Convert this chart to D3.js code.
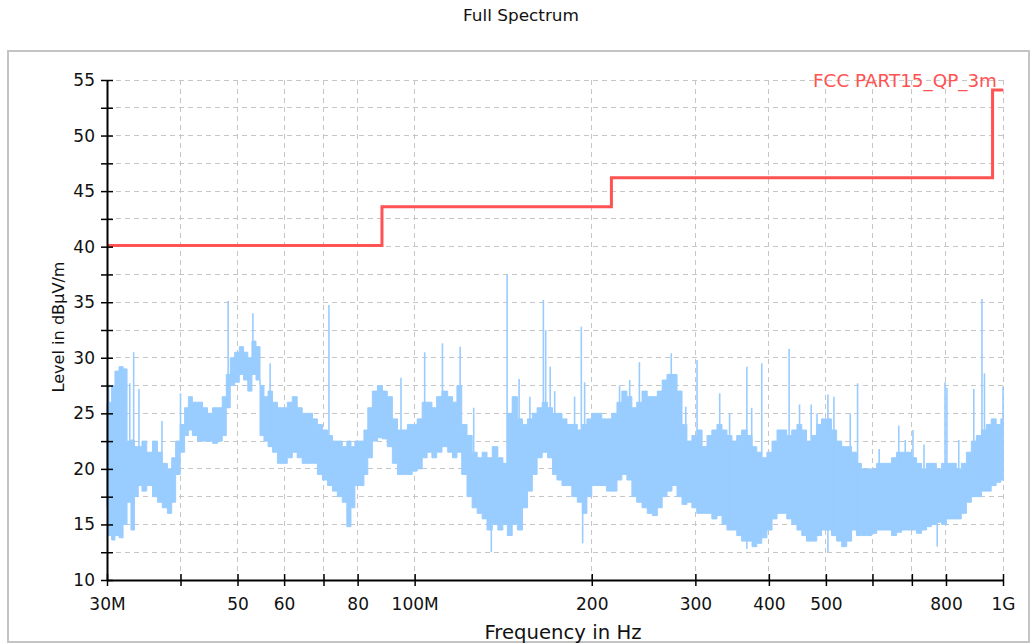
<!DOCTYPE html>
<html>
<head>
<meta charset="utf-8">
<script src="https://cdn.jsdelivr.net/npm/d3@7"></script>
<style>
  body { margin: 0; background: #fff; }
  text { font-family: "DejaVu Sans", sans-serif; }
</style>
</head>
<body>
<div id="chart"></div>
<script>
// spectrum envelope (MHz, dBuV/m)
const freqs = [
  30, 30.4, 30.7, 31.2, 31.7, 32.2, 32.7, 33.2, 33.6, 34.2,
  34.6, 35.5, 36.2, 36.9, 37.6, 38.4, 38.9, 39.6, 40.3, 41.0,
  41.5, 42.3, 43.2, 44.0, 44.9, 45.8, 46.7, 47.5, 48.2, 49.0,
  49.9, 50.8, 51.6, 52.5, 53.3, 54.2, 55.0, 55.9, 56.8, 57.9,
  59.0, 60.1, 61.4, 62.5, 63.8, 65.0, 66.4, 67.7, 69.0, 70.4,
  71.8, 73.2, 74.6, 76.1, 77.3, 78.6, 79.7, 81.4, 82.6, 83.9,
  85.6, 87.3, 89.0, 90.7, 92.6, 94.4, 96.3, 98.1, 100, 102,
  104, 106, 108, 110, 112.6, 115, 117, 119, 121.5, 124,
  126.5, 129, 131.5, 134, 137, 140, 142.5, 145, 148, 151,
  154, 157, 160, 163, 166.5, 170, 173, 176, 180, 183,
  187, 191, 194.5, 198, 202, 206, 210, 214, 218.5, 223,
  227, 232, 236, 241, 246, 251, 256, 261, 266, 271,
  276.5, 282, 287.5, 293, 299, 305, 311, 317, 323, 330,
  336, 343, 349.5, 356, 363, 371, 378, 385, 393, 401,
  409, 417, 425, 433, 442, 451, 459, 468, 478, 487,
  496, 506, 516, 527, 537, 548, 558, 569, 580, 592,
  604, 616, 628, 640, 653, 666, 679, 692, 706, 720,
  734, 748, 763, 778, 794, 809, 825, 841, 858, 875,
  892, 910, 928, 946, 964, 983, 1000
];
const lows = [
  16.5, 14.0, 13.6, 14.0, 13.8, 15.0, 17.0, 14.5, 17.5, 18.5,
  18.0, 18.5, 17.5, 17.0, 16.5, 16.0, 17.0, 19.5, 21.5, 23.0,
  23.5, 23.0, 22.5, 22.5, 22.5, 22.3, 22.5, 23.0, 25.5, 27.5,
  27.8, 28.5, 28.0, 27.0, 28.5, 28.0, 23.0, 22.5, 22.0, 21.5,
  20.5, 20.5, 21.0, 21.5, 21.0, 20.5, 20.5, 20.5, 19.5, 19.0,
  18.5, 18.0, 17.5, 17.0, 14.8, 16.5, 18.5, 18.5, 19.5, 21.0,
  22.5, 22.8, 22.7, 22.0, 20.5, 19.5, 19.5, 19.5, 19.8, 20.0,
  21.0, 21.5, 21.0, 21.5, 22.0, 21.5, 21.0, 21.5, 19.5, 17.5,
  16.5, 16.0, 15.5, 14.5, 15.0, 14.5, 15.0, 14.0, 15.0, 14.5,
  16.5, 18.0, 19.5, 21.0, 21.5, 21.0, 19.5, 19.0, 18.5, 18.5,
  17.5, 17.0, 16.0, 17.5, 18.5, 18.5, 18.5, 18.0, 18.0, 19.0,
  19.5, 19.0, 17.5, 17.0, 16.5, 16.0, 15.8, 16.5, 17.5, 18.0,
  18.5, 17.5, 16.8, 17.0, 16.5, 16.0, 16.0, 16.0, 15.5, 15.8,
  15.0, 14.5, 14.5, 14.0, 13.5, 13.5, 13.0, 13.3, 13.8, 14.5,
  15.5, 16.0, 16.0, 15.5, 15.0, 14.5, 14.0, 13.5, 13.5, 14.0,
  14.5, 14.5, 14.0, 13.5, 13.0, 13.5, 14.5, 14.0, 14.0, 14.0,
  14.2, 14.5, 14.5, 14.5, 14.0, 14.3, 14.5, 14.5, 14.5, 14.2,
  14.5, 14.8, 15.0, 15.2, 15.0, 15.5, 15.5, 15.5, 16.0, 17.0,
  17.5, 17.5, 18.0, 18.0, 18.5, 18.8, 19.0
];
const highs = [
  25.8, 26.0, 27.5, 28.8, 29.2, 29.0, 22.5, 22.6, 22.0, 22.0,
  22.5, 21.5, 22.5, 21.5, 20.5, 20.0, 21.0, 22.5, 24.0, 25.5,
  26.5, 26.0, 26.0, 25.5, 25.0, 25.5, 25.5, 26.5, 28.5, 30.0,
  30.5, 31.0, 30.5, 30.0, 31.5, 31.0, 27.5, 26.5, 27.0, 26.0,
  25.5, 25.5, 26.0, 26.5, 25.5, 25.0, 25.0, 24.5, 24.0, 23.5,
  23.0, 22.5, 22.5, 22.0, 22.5, 22.0, 22.5, 22.5, 23.5, 25.5,
  27.0, 27.5, 27.0, 26.5, 24.5, 23.5, 23.5, 24.0, 24.0, 24.5,
  26.0, 26.0, 25.5, 26.5, 27.0, 26.5, 26.0, 27.5, 24.0, 23.0,
  21.5, 21.0, 21.5, 21.0, 22.0, 21.0, 20.5, 25.0, 26.5, 24.5,
  24.0, 24.5, 25.0, 25.5, 26.0, 25.5, 25.0, 25.0, 24.5, 24.0,
  24.0, 23.5, 24.0, 24.5, 25.0, 25.0, 24.5, 24.5, 25.0, 26.0,
  27.0, 26.5, 25.5, 26.0, 27.0, 26.5, 26.5, 27.0, 28.0, 28.5,
  28.5, 27.0, 24.0, 22.5, 23.0, 23.5, 22.0, 23.0, 23.5, 24.0,
  23.5, 23.0, 22.5, 23.0, 23.5, 23.0, 22.0, 21.5, 21.0, 21.5,
  22.5, 23.5, 23.5, 23.0, 23.5, 24.0, 23.5, 22.5, 23.0, 24.0,
  24.5, 24.5, 23.5, 22.5, 22.0, 22.0, 21.5, 20.5, 20.0, 20.0,
  20.0, 20.5, 20.5, 20.5, 21.0, 21.5, 21.5, 21.5, 21.0, 20.5,
  20.0, 20.5, 20.5, 20.0, 20.5, 20.5, 20.5, 20.0, 20.5, 21.5,
  22.5, 23.0, 23.5, 24.0, 24.5, 24.0, 24.5
];

// narrow peaks and dips standing out of the envelope
const peakFreqs = [30.2, 32.8, 33.3, 34.0, 37.2, 40.0, 48.2, 53.1, 56.8, 71.5,
  94.8, 104, 111.5, 119.5, 126, 143.6, 150.5, 157, 165.5, 167,
  170, 173, 187, 192, 194.5, 223, 232, 241, 273, 289,
  302, 330, 343, 367, 374, 389, 433, 451, 472, 483,
  504, 516, 550, 566, 616, 665, 682, 703, 734, 797,
  803, 841, 892, 921, 930, 1000];
const peakLevels = [27.6, 27.7, 30.5, 27.2, 24.3, 26.8, 35.1, 34.0, 29.5, 34.75,
  28.2, 30.5, 31.3, 31.0, 25.5, 37.5, 28.1, 26.5, 35.2, 32.5,
  29.2, 27.0, 26.5, 32.8, 27.8, 27.5, 28.0, 29.6, 30.4, 25.6,
  29.8, 26.8, 25.0, 29.2, 25.5, 29.5, 30.8, 25.8, 25.8, 25.0,
  26.7, 26.5, 25.0, 27.7, 21.8, 23.9, 22.6, 23.5, 22.2, 27.8,
  27.3, 22.6, 27.2, 35.3, 28.6, 27.4];
const dipFreqs = [135, 193, 367, 504, 773];
const dipLevels = [12.5, 13.3, 12.8, 12.5, 13.0];

// FCC Part 15 QP 3 m limit
const limitFreqs = [30, 88, 88, 216, 216, 960, 960, 1000];
const limitLevels = [40.1, 40.1, 43.6, 43.6, 46.2, 46.2, 54.1, 54.1];

const xTicks = [30, 40, 50, 60, 70, 80, 100, 200, 300, 400, 500, 600, 700, 800, 1000];
const xTickLabels = ["30M", "", "50", "60", "", "80", "100M", "200", "300", "400", "500", "", "", "800", "1G"];
const yTicks = [10, 12.5, 15, 17.5, 20, 22.5, 25, 27.5, 30, 32.5, 35, 37.5, 40, 42.5, 45, 47.5, 50, 52.5, 55];

const width = 1033;
const height = 644;

const svg = d3.select("#chart")
  .append("svg")
  .attr("width", width)
  .attr("height", height);

const x = d3.scaleLog().domain([30, 1000]).range([107, 1003]);
const y = d3.scaleLinear().domain([10, 55]).range([580, 80]);

// outer frame
svg.append("rect")
  .attr("x", 8).attr("y", 51)
  .attr("width", 1021).attr("height", 591)
  .attr("fill", "none")
  .attr("stroke", "#c4c4c4")
  .attr("stroke-width", 2);

// grid
const grid = svg.append("g")
  .attr("stroke", "#c6c6c6")
  .attr("stroke-dasharray", "5,4")
  .attr("shape-rendering", "crispEdges");

grid.selectAll(".h")
  .data(yTicks.filter(d => d > 10))
  .enter()
  .append("line")
  .attr("x1", x(30)).attr("x2", x(1000))
  .attr("y1", d => y(d)).attr("y2", d => y(d));

grid.selectAll(".v")
  .data(xTicks.filter(d => d > 30))
  .enter()
  .append("line")
  .attr("x1", d => x(d)).attr("x2", d => x(d))
  .attr("y1", y(55)).attr("y2", y(10));

// spectrum
const band = freqs.map((f, i) => ({ f: f, lo: lows[i], hi: highs[i] }));
const nearest = f => band[d3.minIndex(band, d => Math.abs(Math.log(d.f / f)))];
const blue = "#99ccff";

const area = d3.area()
  .curve(d3.curveStep)
  .x(d => x(d.f))
  .y0(d => y(d.lo))
  .y1(d => y(d.hi));

svg.append("path")
  .datum(band)
  .attr("d", area)
  .attr("fill", blue)
  .attr("stroke", blue)
  .attr("stroke-width", 1);

svg.append("g")
  .attr("stroke", blue)
  .attr("stroke-width", 1.6)
  .selectAll("line")
  .data(peakFreqs)
  .enter()
  .append("line")
  .attr("x1", d => x(d)).attr("x2", d => x(d))
  .attr("y1", (d, i) => y(peakLevels[i]))
  .attr("y2", d => y(nearest(d).lo));

svg.append("g")
  .attr("stroke", blue)
  .attr("stroke-width", 1.6)
  .selectAll("line")
  .data(dipFreqs)
  .enter()
  .append("line")
  .attr("x1", d => x(d)).attr("x2", d => x(d))
  .attr("y1", (d, i) => y(dipLevels[i]))
  .attr("y2", d => y(nearest(d).hi));

// limit line
const limit = limitFreqs.map((f, i) => [f, limitLevels[i]]);
svg.append("path")
  .datum(limit)
  .attr("d", d3.line().x(d => x(d[0])).y(d => y(d[1])))
  .attr("fill", "none")
  .attr("stroke", "#ff5252")
  .attr("stroke-width", 3);

svg.append("text")
  .attr("x", 997).attr("y", 87)
  .attr("text-anchor", "end")
  .attr("fill", "#ff5252")
  .attr("font-size", 17)
  .attr("textLength", 184)
  .attr("lengthAdjust", "spacingAndGlyphs")
  .text("FCC PART15_QP_3m");

// axes
const yAxis = d3.axisLeft(y)
  .tickValues(yTicks)
  .tickSize(6)
  .tickSizeOuter(0)
  .tickFormat(d => d % 5 === 0 ? d : "");

const gy = svg.append("g")
  .attr("transform", `translate(${x(30)},0)`)
  .call(yAxis)
  .attr("font-family", "DejaVu Sans")
  .attr("font-size", 17);
gy.select(".domain").attr("stroke", "#000").attr("stroke-width", 2);
gy.selectAll(".tick line").attr("x1", -6).attr("x2", 6).attr("stroke", "#000").attr("stroke-width", 1.5);
gy.selectAll(".tick text").attr("x", -12).attr("fill", "#111");

const xAxis = d3.axisBottom(x)
  .tickValues(xTicks)
  .tickSize(6)
  .tickSizeOuter(0)
  .tickFormat((d, i) => xTickLabels[i]);

const gx = svg.append("g")
  .attr("transform", `translate(0,${y(10)})`)
  .call(xAxis)
  .attr("font-family", "DejaVu Sans")
  .attr("font-size", 17);
gx.select(".domain").attr("stroke", "#000").attr("stroke-width", 2);
gx.selectAll(".tick line").attr("y1", -6).attr("y2", 6).attr("stroke", "#000").attr("stroke-width", 1.5);
gx.selectAll(".tick text").attr("y", 18).attr("fill", "#111");

// titles
svg.append("text")
  .attr("x", 521).attr("y", 21)
  .attr("text-anchor", "middle")
  .attr("font-size", 15)
  .attr("textLength", 116)
  .attr("lengthAdjust", "spacingAndGlyphs")
  .attr("fill", "#111")
  .text("Full Spectrum");

svg.append("text")
  .attr("x", 563).attr("y", 639)
  .attr("text-anchor", "middle")
  .attr("font-size", 19)
  .attr("textLength", 157)
  .attr("lengthAdjust", "spacingAndGlyphs")
  .attr("fill", "#111")
  .text("Frequency in Hz");

svg.append("text")
  .attr("transform", "translate(64,327) rotate(-90)")
  .attr("text-anchor", "middle")
  .attr("font-size", 16.5)
  .attr("textLength", 131)
  .attr("lengthAdjust", "spacingAndGlyphs")
  .attr("fill", "#111")
  .text("Level in dBµV/m");
</script>
</body>
</html>
